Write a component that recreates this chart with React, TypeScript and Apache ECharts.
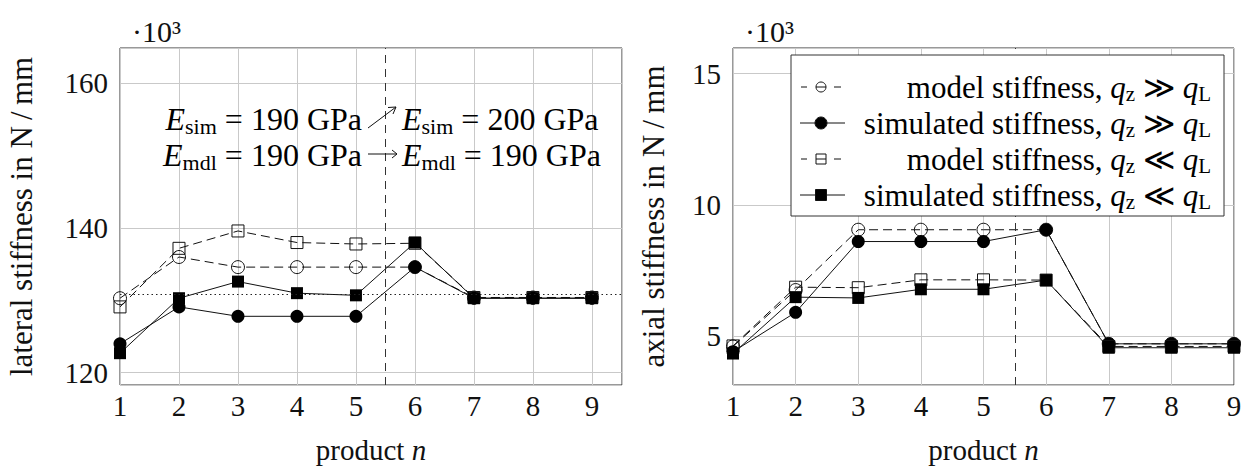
import React, { useEffect, useRef } from "react";
import * as echarts from "echarts";

// ---------- data ----------
const products = [1, 2, 3, 4, 5, 6, 7, 8, 9];

// lateral stiffness (·10^3 N/mm)
const latModelHigh = [130.3, 136.0, 134.6, 134.6, 134.6, 134.6, 130.4, 130.4, 130.4];
const latSimHigh = [124.0, 129.1, 127.8, 127.8, 127.8, 134.6, 130.3, 130.3, 130.3];
const latModelLow = [129.1, 137.2, 139.6, 138.0, 137.8, 137.9, 130.4, 130.4, 130.4];
const latSimLow = [122.7, 130.3, 132.6, 131.0, 130.7, 138.0, 130.3, 130.3, 130.3];
const latReference = 130.9;

// axial stiffness (·10^3 N/mm)
const axModelHigh = [4.6, 6.75, 9.05, 9.05, 9.05, 9.05, 4.7, 4.7, 4.7];
const axSimHigh = [4.4, 5.9, 8.6, 8.6, 8.6, 9.05, 4.7, 4.7, 4.7];
const axModelLow = [4.62, 6.86, 6.84, 7.14, 7.14, 7.13, 4.6, 4.6, 4.6];
const axSimLow = [4.33, 6.48, 6.45, 6.78, 6.78, 7.13, 4.55, 4.55, 4.55];

const switchProduct = 5.5;

const seriesNames = [
  "model stiffness, q_z ≫ q_L",
  "simulated stiffness, q_z ≫ q_L",
  "model stiffness, q_z ≪ q_L",
  "simulated stiffness, q_z ≪ q_L",
];

// ---------- styling ----------
const FONT = '"Liberation Serif", "DejaVu Serif", serif';
const INK = "#111";
const GRID = "#c9c9c9";
const DASH = [9, 5];

const richLegend = {
  t: { fontSize: 31, fontFamily: FONT, color: INK, lineHeight: 34 },
  i: { fontSize: 31, fontFamily: FONT, color: INK, fontStyle: "italic", lineHeight: 34 },
  s: { fontSize: 21, fontFamily: FONT, color: INK, lineHeight: 15, verticalAlign: "bottom" },
};

const richName = {
  t: { fontSize: 29, fontFamily: FONT, color: INK, lineHeight: 26 },
  i: { fontSize: 29, fontFamily: FONT, color: INK, fontStyle: "italic", lineHeight: 26 },
};

function pairs(values: number[]) {
  return products.map((p, i) => [p, values[i]]);
}

function mkSeries(name: string, values: number[], idx: number, kind: string) {
  const model = kind.startsWith("model");
  const circle = kind.endsWith("Circle");
  return {
    name,
    type: "line",
    xAxisIndex: idx,
    yAxisIndex: idx,
    data: pairs(values),
    symbol: circle ? "circle" : "rect",
    symbolSize: circle ? 13 : 12,
    showAllSymbol: true,
    lineStyle: { color: INK, width: 1, type: model ? DASH : "solid" },
    itemStyle: model
      ? { color: "rgba(255,255,255,0)", borderColor: INK, borderWidth: 1 }
      : { color: "#000", borderColor: "#000", borderWidth: 0 },
    emphasis: { disabled: true },
    z: 3,
  };
}

function xAxisCfg(idx: number, max: number) {
  return {
    gridIndex: idx,
    type: "value",
    min: 1,
    max,
    interval: 1,
    name: "{t|product }{i|n}",
    nameLocation: "middle",
    nameGap: 52,
    nameTextStyle: { rich: richName, lineHeight: 26 },
    axisLine: { show: false },
    axisTick: { show: false },
    splitLine: { show: true, lineStyle: { color: GRID, width: 1 } },
    axisLabel: {
      margin: 6,
      fontSize: 29,
      fontFamily: FONT,
      color: INK,
      formatter: (v: number) => (Number.isInteger(v) ? String(v) : ""),
    },
  };
}

function yAxisCfg(idx: number, min: number, max: number, step: number, name: string, gap: number) {
  return {
    gridIndex: idx,
    type: "value",
    min,
    max,
    splitNumber: 2,
    name,
    nameLocation: "middle",
    nameGap: gap,
    nameRotate: 90,
    nameTextStyle: { fontSize: 31, fontFamily: FONT, color: INK },
    axisLine: { show: false },
    axisTick: { show: false },
    splitLine: { show: true, lineStyle: { color: GRID, width: 1 } },
    axisLabel: {
      margin: 12,
      fontSize: 29,
      fontFamily: FONT,
      color: INK,
      formatter: (v: number) => (Math.abs(v / step - Math.round(v / step)) < 1e-6 ? String(v) : ""),
    },
  };
}

function legendGraphics() {
  const els: any[] = [];
  const bx = 791, by = 55, bw = 433, bh = 161;
  els.push({
    type: "rect",
    z: 100,
    shape: { x: bx, y: by, width: bw, height: bh },
    style: { fill: "#fff", stroke: "#333", lineWidth: 1 },
  });
  const rows = [87, 123, 159, 195];
  const labels = [
    "{t|model stiffness, }{i|q}{s|z}{t| ≫ }{i|q}{s|L}",
    "{t|simulated stiffness, }{i|q}{s|z}{t| ≫ }{i|q}{s|L}",
    "{t|model stiffness, }{i|q}{s|z}{t| ≪ }{i|q}{s|L}",
    "{t|simulated stiffness, }{i|q}{s|z}{t| ≪ }{i|q}{s|L}",
  ];
  rows.forEach((y, r) => {
    const model = r % 2 === 0;
    const circle = r < 2;
    if (model) {
      els.push({ type: "line", z: 101, shape: { x1: 801, y1: y, x2: 807, y2: y }, style: { stroke: INK, lineWidth: 1 } });
      els.push({ type: "line", z: 101, shape: { x1: 834, y1: y, x2: 841, y2: y }, style: { stroke: INK, lineWidth: 1 } });
      els.push({ type: "line", z: 101, shape: { x1: 816, y1: y, x2: 826, y2: y }, style: { stroke: INK, lineWidth: 1 } });
    } else {
      els.push({ type: "line", z: 101, shape: { x1: 800, y1: y, x2: 845, y2: y }, style: { stroke: INK, lineWidth: 1 } });
    }
    const fill = model ? "rgba(255,255,255,0)" : "#000";
    if (circle) {
      els.push({ type: "circle", z: 102, shape: { cx: 821, cy: y, r: model ? 5 : 6 }, style: { fill, stroke: INK, lineWidth: 1 } });
    } else {
      const s = model ? 10 : 11;
      els.push({ type: "rect", z: 102, shape: { x: 821 - s / 2, y: y - s / 2, width: s, height: s }, style: { fill, stroke: INK, lineWidth: 1 } });
    }
    els.push({
      type: "text",
      z: 102,
      x: 1211,
      y,
      style: { text: labels[r], rich: richLegend, align: "right", verticalAlign: "middle" },
    });
  });
  return els;
}

function annotationGraphics() {
  const ann = {
    e: { fontSize: 32, fontFamily: FONT, color: INK, fontStyle: "italic", lineHeight: 36 },
    s: { fontSize: 22, fontFamily: FONT, color: INK, lineHeight: 16, verticalAlign: "bottom" },
    t: { fontSize: 32, fontFamily: FONT, color: INK, lineHeight: 36 },
  };
  const els: any[] = [];
  const rows = [
    { y: 119, a: "{e|E}{s|sim}{t| = 190 GPa}", b: "{e|E}{s|sim}{t| = 200 GPa}" },
    { y: 155, a: "{e|E}{s|mdl}{t| = 190 GPa}", b: "{e|E}{s|mdl}{t| = 190 GPa}" },
  ];
  rows.forEach((r) => {
    els.push({ type: "text", z: 50, x: 362, y: r.y, style: { text: r.a, rich: ann, align: "right", verticalAlign: "middle" } });
    els.push({ type: "text", z: 50, x: 402, y: r.y, style: { text: r.b, rich: ann, align: "left", verticalAlign: "middle" } });
  });
  // arrows
  const s = { stroke: INK, lineWidth: 1, fill: "none" };
  els.push({ type: "line", z: 50, shape: { x1: 368, y1: 128, x2: 396, y2: 107 }, style: s });
  els.push({ type: "polyline", z: 50, shape: { points: [[388, 107.5], [396, 107], [393, 114]] }, style: s });
  els.push({ type: "line", z: 50, shape: { x1: 368, y1: 154, x2: 397, y2: 154 }, style: s });
  els.push({ type: "polyline", z: 50, shape: { points: [[392, 150], [397, 154], [392, 158]] }, style: s });
  // ·10^3 scale labels
  [132, 745].forEach((x) => {
    els.push({
      type: "text",
      z: 50,
      x,
      y: 31,
      style: { text: "·10³", fontSize: 30, fontFamily: FONT, fill: INK, align: "left", verticalAlign: "middle" },
    });
  });
  return els;
}

export default function App() {
  const ref = useRef<HTMLDivElement>(null);
  useEffect(() => {
    if (!ref.current) return;
    const chart = echarts.init(ref.current, null, { renderer: "svg" });
    const sLatMH = mkSeries(seriesNames[0], latModelHigh, 0, "modelCircle");
    (sLatMH as any).markLine = {
      silent: true,
      symbol: ["none", "none"],
      label: { show: false },
      animation: false,
      data: [
        { xAxis: switchProduct, lineStyle: { color: "#333", width: 1, type: [8, 6] } },
        { yAxis: latReference, lineStyle: { color: "#222", width: 1, type: [1.5, 3] } },
      ],
    };
    const sAxMH = mkSeries(seriesNames[0], axModelHigh, 1, "modelCircle");
    (sAxMH as any).markLine = {
      silent: true,
      symbol: ["none", "none"],
      label: { show: false },
      animation: false,
      data: [{ xAxis: switchProduct, lineStyle: { color: "#333", width: 1, type: [8, 6] } }],
    };
    chart.setOption({
      animation: false,
      backgroundColor: "#fff",
      textStyle: { fontFamily: FONT },
      grid: [
        { left: 120, top: 48, width: 502, height: 337, show: true, borderColor: "#333", borderWidth: 1, backgroundColor: "transparent", containLabel: false, outerBoundsMode: "none" },
        { left: 733, top: 48, width: 501, height: 337, show: true, borderColor: "#333", borderWidth: 1, backgroundColor: "transparent", containLabel: false, outerBoundsMode: "none" },
      ],
      xAxis: [xAxisCfg(0, 9.51), xAxisCfg(1, 9)],
      yAxis: [
        yAxisCfg(0, 118.3, 164.9, 20, "lateral stiffness in N\u2009/\u2009mm", 83),
        yAxisCfg(1, 3.13, 15.98, 5, "axial stiffness in N\u2009/\u2009mm", 64),
      ],
      series: [
        sLatMH,
        mkSeries(seriesNames[1], latSimHigh, 0, "simCircle"),
        mkSeries(seriesNames[2], latModelLow, 0, "modelRect"),
        mkSeries(seriesNames[3], latSimLow, 0, "simRect"),
        sAxMH,
        mkSeries(seriesNames[1], axSimHigh, 1, "simCircle"),
        mkSeries(seriesNames[2], axModelLow, 1, "modelRect"),
        mkSeries(seriesNames[3], axSimLow, 1, "simRect"),
      ],
      graphic: [...annotationGraphics(), ...legendGraphics()],
    });
    return () => chart.dispose();
  }, []);
  return (
    <div
      ref={ref}
      style={{ position: "fixed", left: 0, top: 0, width: 1247, height: 469, background: "#fff" }}
    />
  );
}
